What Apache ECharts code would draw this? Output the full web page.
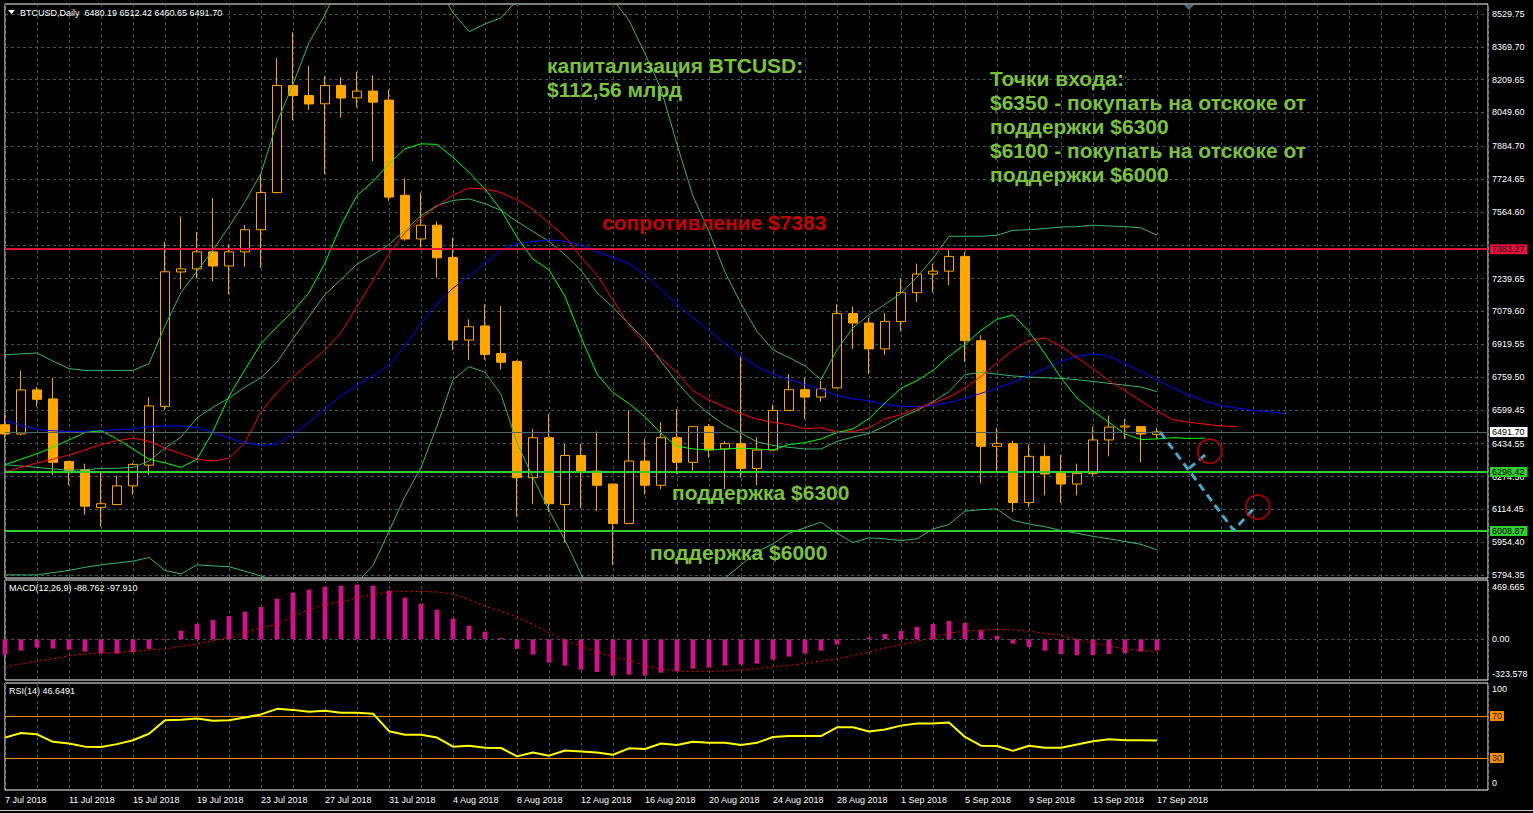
<!DOCTYPE html>
<html><head><meta charset="utf-8">
<script src="https://cdn.jsdelivr.net/npm/echarts@6/dist/echarts.min.js"></script>
<style>html,body{margin:0;padding:0;background:#000;overflow:hidden}#c{width:1533px;height:813px}</style>
</head><body><div id="c"></div>
<script>
// ---------------- DATA ----------------
const dates = ['2018-07-07','2018-07-08','2018-07-09','2018-07-10','2018-07-11','2018-07-12','2018-07-13','2018-07-14','2018-07-15','2018-07-16','2018-07-17','2018-07-18','2018-07-19','2018-07-20','2018-07-21','2018-07-22','2018-07-23','2018-07-24','2018-07-25','2018-07-26','2018-07-27','2018-07-28','2018-07-29','2018-07-30','2018-07-31',
'2018-08-01','2018-08-02','2018-08-03','2018-08-04','2018-08-05','2018-08-06','2018-08-07','2018-08-08','2018-08-09','2018-08-10','2018-08-11','2018-08-12','2018-08-13','2018-08-14','2018-08-15','2018-08-16','2018-08-17','2018-08-18','2018-08-19','2018-08-20','2018-08-21','2018-08-22','2018-08-23','2018-08-24','2018-08-25','2018-08-26','2018-08-27','2018-08-28','2018-08-29','2018-08-30','2018-08-31',
'2018-09-01','2018-09-02','2018-09-03','2018-09-04','2018-09-05','2018-09-06','2018-09-07','2018-09-08','2018-09-09','2018-09-10','2018-09-11','2018-09-12','2018-09-13','2018-09-14','2018-09-15','2018-09-16','2018-09-17'];
const tickLabels = ['7 Jul 2018','11 Jul 2018','15 Jul 2018','19 Jul 2018','23 Jul 2018','27 Jul 2018','31 Jul 2018','4 Aug 2018','8 Aug 2018','12 Aug 2018','16 Aug 2018','20 Aug 2018','24 Aug 2018','28 Aug 2018','1 Sep 2018','5 Sep 2018','9 Sep 2018','13 Sep 2018','17 Sep 2018'];

const open  = [6527,6482,6697,6653,6348,6308,6124,6138,6229,6330, 6617,7272,7287,7370,7301,7370,7478,7659,8181,8132, 8092,8181,8121,8154,8110,7646,7433,7500,7343,6940, 7009,6874,6836,6269,6464,6138,6377,6301,6238,6046, 6350,6232,6464,6344,6518,6409,6435,6314,6404,6597, 6698,6662,6707,7069,7023,6897,7030,7171,7262,7276, 7348,6937,6422,6435,6148,6373,6290,6238,6290,6453, 6516,6518,6480.19];
const high  = [6576,6792,6711,6756,6352,6337,6296,6279,6341,6662, 7420,7542,7466,7632,7406,7500,7749,8315,8441,8277, 8228,8222,8248,8231,8161,7728,7659,7518,7439,7041, 7114,7106,6840,6507,6579,6435,6435,6494,6240,6597, 6458,6539,6603,6520,6530,6446,6861,6467,6626,6774, 6756,6742,7114,7103,7049,7072,7240,7312,7312,7385, 7370,6964,6512,6449,6431,6431,6380,6337,6518,6572, 6554,6520,6512.42];
const low   = [6467,6476,6615,6283,6232,6088,6030,6136,6185,6283, 6599,7189,7240,7226,7162,7298,7291,7655,8011,8062, 7749,8024,8074,7813,7619,7424,7392,7244,6892,6843, 6843,6796,6079,6142,6102,5953,6120,6106,5844,6044, 6187,6214,6287,6304,6368,6214,6269,6232,6402,6595, 6554,6639,6705,6897,6774,6868,6982,7126,7171,7207, 6832,6241,6301,6102,6124,6182,6146,6182,6278,6373, 6458,6344,6460.65];
const close = [6482,6697,6651,6344,6305,6130,6142,6229,6334,6619, 7273,7287,7370,7301,7370,7478,7659,8181,8132,8091, 8181,8120,8154,8100,7637,7433,7500,7341,6940,7005, 6870,6832,6269,6464,6142,6377,6301,6232,6046,6350, 6232,6464,6344,6518,6404,6435,6314,6404,6597,6698, 6662,6702,7069,7023,6897,7031,7171,7262,7276,7348, 6937,6422,6435,6148,6373,6287,6238,6290,6453,6516, 6521,6482,6491.70];

// Alligator (lips shifted 3, teeth shifted 5, jaw shifted 8 bars)
const lips  = [6332,6359,6386,6418,6453,6489,6498,6458,6409,6359, 6341,6319,6359,6494,6666,6796,6922,7005,7080,7171, 7316,7500,7645,7713,7800,7872,7897,7894,7831,7758, 7677,7574,7442,7334,7283,7153,6955,6774,6684,6630, 6566,6485,6422,6409,6404,6409,6413,6409,6404,6431, 6440,6458,6489,6507,6557,6633,6705,6742,6792,6861, 6919,6987,7041,7063,6982,6873,6756,6657,6594,6539, 6482,6455,6458,6464,6460,6462];
const teeth = [6296,6319,6341,6359,6380,6404,6431,6449,6462,6446, 6413,6386,6359,6350,6364,6440,6590,6684,6762,6825, 6892,6976,7103,7231,7361,7464,7533,7592,7646,7681, 7677,7659,7623,7578,7509,7446,7343,7258,7135,7013, 6922,6850,6783,6693,6648,6612,6581,6554,6539,6527, 6507,6512,6491,6494,6512,6556,6576,6606,6633,6662, 6706,6763,6828,6892,6937,6951,6910,6855,6801,6742, 6693,6642,6594,6552,6539,6530,6521,6518];
const jaw   = [6548,6525,6503,6498,6494,6496,6498,6503,6507,6518, 6521,6521,6512,6489,6462,6440,6426,6435,6483,6539, 6603,6669,6720,6765,6819,6910,7023,7117,7193,7253, 7316,7379,7410,7421,7428,7421,7403,7370,7343,7312, 7258,7186,7114,7049,6985,6922,6861,6810,6774,6747, 6724,6698,6670,6653,6644,6626,6617,6615,6622,6635, 6655,6680,6706,6734,6767,6801,6837,6861,6873,6861, 6825,6787,6747,6707,6671,6642,6619,6608,6597,6590,6581];

// Bollinger Bands
const bbUpper  = [6868,6873,6877,6837,6801,6792,6792,6792,6792,6825, 7009,7171,7276,7379,7493,7614,7753,8002,8188,8390, 8526,8700,8800,8870,8804,8772,8775,8671,8535,8444, 8481,8511,8596,8669,8732,8747,8761,8700,8600,8499, 8336,8165,7894,7641,7469,7271,7117,6982,6892,6855, 6814,6747,6892,7000,7063,7114,7168,7247,7338,7446, 7446,7446,7451,7475,7478,7484,7491,7493,7500,7496, 7493,7487,7451];
const bbMiddle = [6332,6326,6319,6312,6305,6308,6314,6315,6319,6350, 6413,6467,6561,6612,6657,6711,6756,6832,6946,7054, 7162,7235,7310,7356,7406,7475,7547,7596,7621,7628, 7605,7572,7518,7469,7421,7356,7280,7171,7099,7018, 6940,6837,6734,6648,6579,6525,6485,6444,6426,6417, 6409,6409,6446,6467,6485,6520,6563,6597,6639,6689, 6771,6783,6774,6765,6760,6756,6753,6747,6738,6729, 6720,6711,6688];
const bbLower  = [5795,5795,5795,5806,5817,5832,5844,5853,5862,5880, 5817,5799,5844,5839,5835,5813,5790,5763,5700,5718, 5740,5750,5760,5841,6008,6178,6319,6521,6747,6810, 6783,6675,6440,6269,6110,5965,5799,5642,5598,5537, 5544,5509,5574,5655,5689,5779,5844,5907,5947,5998, 6025,6052,5998,5953,5976,5971,5962,5971,6019,6041, 6106,6113,6117,6061,6043,6030,6012,5998,5983,5971, 5958,5944,5917];

// MACD(12,26,9)
const macdHist   = [-124,-92,-67,-75,-84,-100,-113,-116,-105,-78, -5,70,127,156,189,224,262,329,378,402, 426,434,442,434,394,337,289,240,167,110, 62,11,-78,-124,-189,-213,-246,-265,-294,-286, -294,-270,-259,-238,-230,-213,-205,-197,-165,-140, -116,-92,-43,-3,16,43,67,100,124,148, 132,73,27,-35,-62,-92,-119,-127,-127,-119, -111,-100,-88.762];
const macdSignal = [-224,-200,-178,-159,-132,-119,-111,-108,-97,-86, -78,-57,-38,-11,11,54,92,124,186,240, 281,302,334,361,383,388,388,383,367,321, 267,227,178,119,51,-8,-57,-103,-143,-170, -211,-243,-259,-259,-259,-257,-248,-238,-221,-211, -194,-176,-157,-132,-103,-70,-43,-16,11,51, 65,75,81,75,65,48,32,-5,-30,-54, -78,-92,-97.91];

// RSI(14)
const rsi = [49.4,53.7,52.5,45.4,43.8,40.8,40.5,43.2,46.9,53.1, 66.0,66.3,67.5,65.4,66.0,68.5,71.5,76.8,75.8,74.0, 74.9,73.1,73.1,72.2,55.5,52.2,52.2,49.4,40.8,41.7, 39.8,39.5,31.5,35.2,32.2,37.1,36.2,35.2,33.1,39.2, 38.6,43.8,42.3,45.4,44.5,44.5,42.3,44.5,50.0,50.9, 50.9,50.9,59.2,59.2,55.2,57.1,60.8,62.9,62.9,63.8, 50.0,41.7,41.4,36.8,41.7,39.8,39.8,42.9,46.0,47.8, 46.9,46.9,46.6491];

// price-axis tick labels and level lines
const priceTicks = [8529.75,8369.70,8209.65,8049.60,7884.70,7724.65,7564.60,7404.55,7239.65,7079.60,6919.55,6759.50,6599.45,6434.55,6274.50,6114.45,5954.40,5794.35];
const hiddenPriceLabels = [7404.55];
const resistanceLevel = 7383.27;
const supportLevels = [6296.42, 6008.87];
const lastPrice = 6491.70;
const macdTicks = [469.665, 0, -323.578];
const rsiTicks = [100, 70, 30, 0];

// forecast drawing (bar index, price)
const forecastMain = [[72.2, 6491], [76.8, 6012], [78.1, 6124]];
const forecastBranch = [[74.0, 6314], [75.1, 6386]];
const entryCircles = [[75.3, 6398], [78.3, 6126]];

// ---------------- CHART ----------------
const FONT = '"Liberation Sans", Arial, sans-serif';
const GRIDC = '#3d5656';
const CLEAR = 'rgba(0,0,0,0)';
const X_MAX = 1483 / 16;
const chart = echarts.init(document.getElementById('c'), null, {renderer: 'svg'});

function xAxisCfg(gi, labels) {
  return {
    type: 'value', gridIndex: gi, min: 0, max: X_MAX, interval: 2,
    axisLine: {show: false}, axisTick: {show: false},
    splitLine: {show: true, lineStyle: {color: GRIDC, type: [3, 3], width: 1}},
    axisLabel: labels ? {
      show: true, color: '#fff', fontSize: 9, fontFamily: FONT, align: 'left', margin: 5,
      formatter: v => { const k = Math.round(v); return (Math.abs(v - k) < 1e-6 && k % 4 === 0 && tickLabels[k / 4]) ? tickLabels[k / 4] : ''; }
    } : {show: false}
  };
}
function yAxisCfg(gi, min, max) {
  return {type: 'value', gridIndex: gi, min, max, axisLine: {show: false}, axisTick: {show: false}, axisLabel: {show: false}, splitLine: {show: false}};
}
const pts = arr => arr.map((v, i) => [i, v]);
const lbl = {show: true, color: '#fff', fontSize: 9, fontFamily: FONT, position: 'end', distance: 4};

function lineSeries(name, arr, color, z) {
  return {name, type: 'line', xAxisIndex: 0, yAxisIndex: 0, data: pts(arr), showSymbol: false, symbol: 'none',
    lineStyle: {color, width: 1}, z: z || 5, animation: false, silent: true};
}

const option = {
  backgroundColor: '#000',
  animation: false,
  grid: [
    {left: 5, top: 4, width: 1483, height: 574, show: true, borderColor: '#fff', borderWidth: 1},
    {left: 5, top: 580, width: 1483, height: 100, show: true, borderColor: '#fff', borderWidth: 1},
    {left: 5, top: 683, width: 1483, height: 107, show: true, borderColor: '#fff', borderWidth: 1}
  ],
  xAxis: [xAxisCfg(0, false), xAxisCfg(1, false), xAxisCfg(2, true)],
  yAxis: [yAxisCfg(0, 5779.9, 8578.5), yAxisCfg(1, -329.6, 480), yAxisCfg(2, -0.5, 101.4)],
  series: [
    // price grid + right axis labels
    {type: 'line', xAxisIndex: 0, yAxisIndex: 0, data: [], z: 1, silent: true,
      markLine: {silent: true, symbol: ['none', 'none'], z: 1, animation: false,
        lineStyle: {color: GRIDC, type: [3, 3], width: 1},
        label: Object.assign({}, lbl, {formatter: p => hiddenPriceLabels.includes(p.value) ? '' : Number(p.value).toFixed(2)}),
        emphasis: {disabled: true},
        data: priceTicks.map(v => ({yAxis: v}))}},
    // candles
    {type: 'candlestick', xAxisIndex: 0, yAxisIndex: 0, barWidth: 10, z: 3, silent: true, clip: true,
      encode: {x: 0, y: [1, 2, 3, 4]},
      data: open.map((o, i) => [i, o, close[i], low[i], high[i]]),
      itemStyle: {color: '#000', color0: '#FFA500', borderColor: '#FFA500', borderColor0: '#FFA500', borderColorDoji: '#FFA500', borderWidth: 1}},
    lineSeries('BB upper', bbUpper, '#3CB371'),
    lineSeries('BB middle', bbMiddle, '#3CB371'),
    lineSeries('BB lower', bbLower, '#3CB371'),
    lineSeries('Jaw', jaw, '#0000FF', 6),
    lineSeries('Teeth', teeth, '#FF0000', 6),
    lineSeries('Lips', lips, '#00FF00', 6),
    // level lines
    {type: 'line', xAxisIndex: 0, yAxisIndex: 0, data: [], z: 8, silent: true,
      markLine: {silent: true, symbol: ['none', 'none'], z: 8, animation: false, emphasis: {disabled: true},
        data: [
          {yAxis: lastPrice, lineStyle: {color: '#4e6666', width: 1, type: 'solid'},
            label: Object.assign({}, lbl, {formatter: () => lastPrice.toFixed(2), color: '#000', backgroundColor: '#fff', padding: [1, 3, 0, 2], distance: 2})},
          {yAxis: resistanceLevel, lineStyle: {color: '#DC143C', width: 2, type: 'solid'},
            label: Object.assign({}, lbl, {formatter: () => resistanceLevel.toFixed(2), color: '#3a0010', backgroundColor: '#DC143C', padding: [1, 3, 0, 2], distance: 2})},
          ...supportLevels.map(v => ({yAxis: v, lineStyle: {color: '#32CD32', width: 2, type: 'solid'},
            label: Object.assign({}, lbl, {formatter: () => v.toFixed(2), color: '#000', backgroundColor: '#32CD32', padding: [1, 3, 0, 2], distance: 2})}))
        ]}},
    // forecast zigzag
    {type: 'line', xAxisIndex: 0, yAxisIndex: 0, data: forecastMain, symbol: 'none', z: 9, silent: true, clip: false,
      lineStyle: {color: '#48A6C8', width: 3, type: [8, 5]}},
    {type: 'line', xAxisIndex: 0, yAxisIndex: 0, data: forecastBranch, symbol: 'none', z: 9, silent: true, clip: false,
      lineStyle: {color: '#48A6C8', width: 3, type: [8, 5]}},
    {type: 'scatter', xAxisIndex: 0, yAxisIndex: 0, data: entryCircles, symbol: 'circle', symbolSize: 24, z: 9, silent: true,
      itemStyle: {color: CLEAR, borderColor: '#C00000', borderWidth: 2}},

    // MACD
    {type: 'line', xAxisIndex: 1, yAxisIndex: 1, data: [], z: 1, silent: true,
      markLine: {silent: true, symbol: ['none', 'none'], z: 1, animation: false, emphasis: {disabled: true},
        data: [
          {yAxis: macdTicks[0], lineStyle: {color: CLEAR, width: 1}, label: Object.assign({}, lbl, {formatter: () => '469.665', offset: [0, 6]})},
          {yAxis: macdTicks[1], lineStyle: {color: GRIDC, type: [3, 3], width: 1}, label: Object.assign({}, lbl, {formatter: () => '0.00'})},
          {yAxis: macdTicks[2], lineStyle: {color: CLEAR, width: 1}, label: Object.assign({}, lbl, {formatter: () => '-323.578', offset: [0, -5]})}
        ]}},
    {type: 'bar', xAxisIndex: 1, yAxisIndex: 1, data: pts(macdHist), barWidth: 5, z: 3, silent: true,
      itemStyle: {color: '#C71585'}},
    {type: 'line', xAxisIndex: 1, yAxisIndex: 1, data: pts(macdSignal), showSymbol: false, symbol: 'none', z: 4, silent: true,
      lineStyle: {color: '#FF0000', width: 1, type: [2, 3]}},

    // RSI
    {type: 'line', xAxisIndex: 2, yAxisIndex: 2, data: [], z: 2, silent: true,
      markLine: {silent: true, symbol: ['none', 'none'], z: 2, animation: false, emphasis: {disabled: true},
        data: [
          {yAxis: rsiTicks[0], lineStyle: {color: CLEAR, width: 1}, label: Object.assign({}, lbl, {formatter: () => '100', offset: [0, 5]})},
          {yAxis: rsiTicks[1], lineStyle: {color: '#FF8C00', width: 1, type: 'solid'}, label: Object.assign({}, lbl, {formatter: () => '70', color: '#222', backgroundColor: '#FF8C00', padding: [1, 2, 0, 2], distance: 2})},
          {yAxis: rsiTicks[2], lineStyle: {color: '#FF8C00', width: 1, type: 'solid'}, label: Object.assign({}, lbl, {formatter: () => '30', color: '#222', backgroundColor: '#FF8C00', padding: [1, 2, 0, 2], distance: 2})},
          {yAxis: rsiTicks[3], lineStyle: {color: CLEAR, width: 1}, label: Object.assign({}, lbl, {formatter: () => '0', offset: [0, -6]})}
        ]}},
    {type: 'line', xAxisIndex: 2, yAxisIndex: 2, data: pts(rsi), showSymbol: false, symbol: 'none', z: 4, silent: true,
      lineStyle: {color: '#FFFF00', width: 2}}
  ],
  graphic: [
    {type: 'line', silent: true, z: 50, shape: {x1: 0, y1: 810.5, x2: 1533, y2: 810.5}, style: {stroke: '#d0d0d0', lineWidth: 1}},
    {type: 'polygon', silent: true, z: 50, shape: {points: [[8, 10], [15, 10], [11.5, 14]]}, style: {fill: '#fff'}},
    {type: 'polygon', silent: true, z: 50, shape: {points: [[1184, 5], [1194, 5], [1189, 10]]}, style: {fill: '#3e6e6e'}},
    ...[
      ['BTCUSD,Daily  6480.19 6512.42 6460.65 6491.70', 20, 13],
      ['MACD(12,26,9) -88.762 -97.910', 9, 588],
      ['RSI(14) 46.6491', 9, 691]
    ].map(([t, x, y]) => ({type: 'text', silent: true, z: 50, style: {text: t, x, y, fill: '#fff', font: '9px ' + FONT, verticalAlign: 'middle', align: 'left'}})),
    ...[
      ['капитализация BTCUSD:', 547, 65, '#7AC142'],
      ['$112,56 млрд', 547, 89, '#7AC142'],
      ['сопротивление $7383', 602, 222, '#C40000'],
      ['поддержка $6300', 672, 492, '#7AC142'],
      ['поддержка $6000', 650, 552, '#7AC142'],
      ['Точки входа:', 990, 78, '#7AC142'],
      ['$6350 - покупать на отскоке от', 990, 102, '#7AC142'],
      ['поддержки $6300', 990, 126, '#7AC142'],
      ['$6100 - покупать на отскоке от', 990, 150, '#7AC142'],
      ['поддержки $6000', 990, 174, '#7AC142']
    ].map(([t, x, y, c]) => ({type: 'text', silent: true, z: 60, style: {text: t, x, y, fill: c, font: 'bold 21px ' + FONT, verticalAlign: 'middle', align: 'left'}}))
  ]
};
chart.setOption(option);
</script>
</body></html>
